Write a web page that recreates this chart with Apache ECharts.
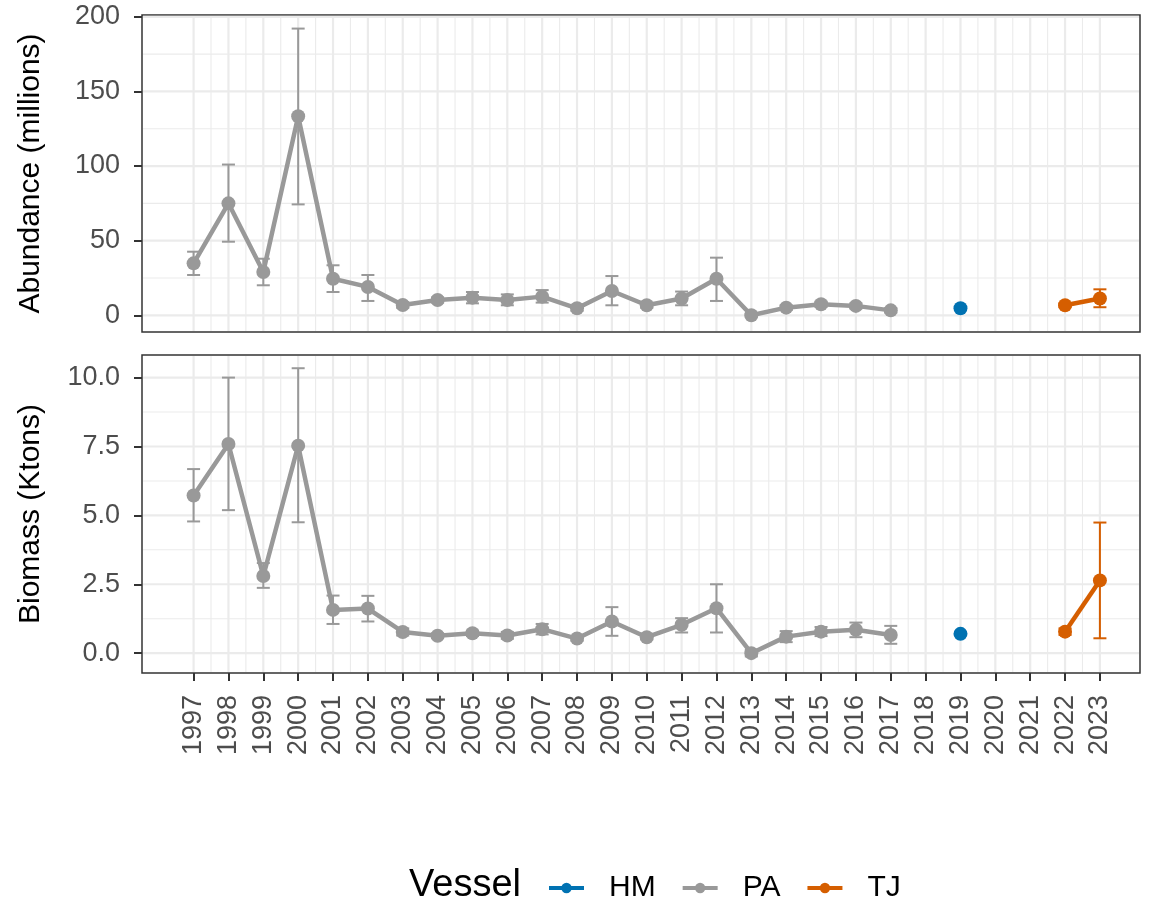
<!DOCTYPE html>
<html><head><meta charset="utf-8">
<script src="https://cdn.jsdelivr.net/npm/echarts@6/dist/echarts.min.js"></script>
<style>html,body{margin:0;padding:0;background:#fff}#c{width:1152px;height:907px}</style>
</head><body><div id="c"></div>
<script>
// ---------- data ----------
const years_PA = [1997,1998,1999,2000,2001,2002,2003,2004,2005,2006,2007,2008,2009,2010,2011,2012,2013,2014,2015,2016,2017];
const years_HM = [2019];
const years_TJ = [2022,2023];

const abund_PA    = [34.8,75.0,29.0,133.4,24.5,19.0,6.9,10.2,11.8,10.2,12.5,4.7,16.3,6.7,11.2,24.5,0.0,5.1,7.4,6.3,3.3];
const abund_PA_lo = [27.0,49.3,20.1,74.3,15.6,9.6,5.0,8.5,8.0,6.7,8.5,3.0,6.7,5.0,6.7,9.6,-0.8,3.5,5.6,4.6,1.8];
const abund_PA_hi = [42.6,101.0,37.9,192.1,33.5,27.0,8.8,12.0,15.6,14.0,16.9,6.4,26.3,8.5,15.9,38.6,0.8,6.7,9.2,8.0,4.8];
const abund_HM    = [4.7];
const abund_HM_lo = [4.0];
const abund_HM_hi = [5.4];
const abund_TJ    = [6.7,11.2];
const abund_TJ_lo = [5.5,5.4];
const abund_TJ_hi = [7.9,17.4];

const bio_PA    = [5.72,7.59,2.80,7.53,1.57,1.62,0.77,0.63,0.72,0.64,0.87,0.53,1.15,0.58,1.03,1.63,0.00,0.60,0.78,0.85,0.66];
const bio_PA_lo = [4.78,5.19,2.37,4.75,1.06,1.15,0.64,0.54,0.62,0.52,0.68,0.45,0.63,0.50,0.75,0.75,-0.12,0.40,0.62,0.58,0.34];
const bio_PA_hi = [6.68,10.0,3.27,10.34,2.09,2.08,0.90,0.72,0.82,0.77,1.06,0.61,1.67,0.66,1.27,2.50,0.12,0.80,0.95,1.11,0.99];
const bio_HM    = [0.70];
const bio_HM_lo = [0.65];
const bio_HM_hi = [0.75];
const bio_TJ    = [0.78,2.64];
const bio_TJ_lo = [0.66,0.54];
const bio_TJ_hi = [0.90,4.74];

const xTicks = [1997,1998,1999,2000,2001,2002,2003,2004,2005,2006,2007,2008,2009,2010,2011,2012,2013,2014,2015,2016,2017,2018,2019,2020,2021,2022,2023];
const xMinor = [1997.5,1998.5,1999.5,2000.5,2001.5,2002.5,2003.5,2004.5,2005.5,2006.5,2007.5,2008.5,2009.5,2010.5,2011.5,2012.5,2013.5,2014.5,2015.5,2016.5,2017.5,2018.5,2019.5,2020.5,2021.5,2022.5];
const abundTicks = [0,50,100,150,200];
const abundMinor = [25,75,125,175];
const bioTicks = [0,2.5,5,7.5,10];
const bioMinor = [1.25,3.75,6.25,8.75];

const vessels = ['HM','PA','TJ'];
const colors = {HM:'#0072B2', PA:'#999999', TJ:'#D55E00'};

// ---------- layout ----------
const FONT = '"Liberation Sans", Arial, Helvetica, sans-serif';
const X_MIN = 1995.52, X_MAX = 2024.15;
const Y0 = [-11.2, 201.2];
const Y1 = [-0.72, 10.82];

const chart = echarts.init(document.getElementById('c'), null, {renderer:'canvas'});

function zip(xs, ys){ return xs.map((x,i)=>[x, ys[i]]); }
function zip3(xs, lo, hi){ return xs.map((x,i)=>[x, lo[i], hi[i]]); }

function vGridSeries(gi, vals, w, yMid){
  return {type:'custom', xAxisIndex:gi, yAxisIndex:gi, silent:true, z:1, clip:false,
    data: vals.map(v=>[v, yMid]),
    encode:{x:0, y:1},
    renderItem:function(params, api){
      const cs = params.coordSys;
      const p = api.coord([api.value(0), api.value(1)]);
      return {type:'line', shape:{x1:p[0], y1:cs.y+1, x2:p[0], y2:cs.y+cs.height-1},
        style:{stroke:'#EBEBEB', lineWidth:w}};
    }};
}
function hGridSeries(gi, vals, w, xMid){
  return {type:'custom', xAxisIndex:gi, yAxisIndex:gi, silent:true, z:1, clip:false,
    data: vals.map(v=>[xMid, v]),
    encode:{x:0, y:1},
    renderItem:function(params, api){
      const cs = params.coordSys;
      const p = api.coord([api.value(0), api.value(1)]);
      return {type:'line', shape:{x1:cs.x+1, y1:p[1], x2:cs.x+cs.width-1, y2:p[1]},
        style:{stroke:'#EBEBEB', lineWidth:w}};
    }};
}
function errSeries(gi, name, data){
  const col = colors[name];
  return {type:'custom', name: name+' err', xAxisIndex:gi, yAxisIndex:gi, silent:true, z:2,
    data: data, encode:{x:0, y:[1,2]},
    renderItem:function(params, api){
      const x = api.value(0);
      const a = api.coord([x, api.value(1)]);
      const b = api.coord([x, api.value(2)]);
      const hw = 6.5;
      const st = {stroke:col, lineWidth:2};
      return {type:'group', children:[
        {type:'line', shape:{x1:a[0], y1:a[1], x2:b[0], y2:b[1]}, style:st},
        {type:'line', shape:{x1:a[0]-hw, y1:a[1], x2:a[0]+hw, y2:a[1]}, style:st},
        {type:'line', shape:{x1:b[0]-hw, y1:b[1], x2:b[0]+hw, y2:b[1]}, style:st}
      ]};
    }};
}
function lineSeries(gi, name, data){
  return {type:'line', name:name, xAxisIndex:gi, yAxisIndex:gi, z:3,
    data:data, symbol:'circle', symbolSize:14, showSymbol:true,
    itemStyle:{color:colors[name]}, lineStyle:{color:colors[name], width:4.5},
    emphasis:{disabled:true}};
}

function xAxisDef(gi, show){
  return {type:'value', gridIndex:gi, min:X_MIN, max:X_MAX,
    axisLine:{show:false, onZero:false}, splitLine:{show:false}, minorSplitLine:{show:false},
    axisTick:{show:show, customValues:xTicks, length:8, lineStyle:{color:'#333333', width:2}},
    axisLabel:{show:show, customValues:xTicks, rotate:90, margin:22, fontSize:27,
      color:'#4D4D4D', fontFamily:FONT, formatter:v=>String(v)}};
}
function yAxisDef(gi, ext, ticks, name, fmt){
  return {type:'value', gridIndex:gi, min:ext[0], max:ext[1],
    name:name, nameLocation:'middle', nameGap:96, nameRotate:90,
    nameTextStyle:{fontSize:30, color:'#000', fontFamily:FONT},
    axisLine:{show:false, onZero:false}, splitLine:{show:false},
    axisTick:{show:true, customValues:ticks, length:8, lineStyle:{color:'#333333', width:2}},
    axisLabel:{customValues:ticks, margin:22, fontSize:27, color:'#4D4D4D', fontFamily:FONT, formatter:fmt}};
}

const option = {
  animation:false,
  backgroundColor:'#fff',
  textStyle:{fontFamily:FONT},
  grid:[
    {left:142, top:15, width:998, height:317, show:true, borderColor:'#333333', borderWidth:1.5, backgroundColor:'#fff', containLabel:false},
    {left:142, top:355, width:998, height:318, show:true, borderColor:'#333333', borderWidth:1.5, backgroundColor:'#fff', containLabel:false}
  ],
  xAxis:[ xAxisDef(0,false), xAxisDef(1,true) ],
  yAxis:[
    yAxisDef(0, Y0, abundTicks, 'Abundance (millions)', v=>String(v)),
    yAxisDef(1, Y1, bioTicks, 'Biomass (Ktons)', v=>v.toFixed(1))
  ],
  legend:{
    data:vessels, left:547, top:873, orient:'horizontal', padding:0,
    itemWidth:35, itemHeight:13, itemGap:25, selectedMode:false,
    lineStyle:{width:4},
    textStyle:{fontSize:30, color:'#000', fontFamily:FONT, padding:[0,0,0,20]}
  },
  graphic:[
    {type:'text', left:409, top:867, style:{text:'Vessel', font:'38px '+FONT, fill:'#000'}}
  ],
  series:[
    vGridSeries(0, xMinor, 1.1, 100), vGridSeries(0, xTicks, 2.2, 100),
    hGridSeries(0, abundMinor, 1.1, 2010), hGridSeries(0, abundTicks, 2.2, 2010),
    vGridSeries(1, xMinor, 1.1, 5), vGridSeries(1, xTicks, 2.2, 5),
    hGridSeries(1, bioMinor, 1.1, 2010), hGridSeries(1, bioTicks, 2.2, 2010),
    errSeries(0,'PA', zip3(years_PA, abund_PA_lo, abund_PA_hi)),
    errSeries(0,'HM', zip3(years_HM, abund_HM_lo, abund_HM_hi)),
    errSeries(0,'TJ', zip3(years_TJ, abund_TJ_lo, abund_TJ_hi)),
    errSeries(1,'PA', zip3(years_PA, bio_PA_lo, bio_PA_hi)),
    errSeries(1,'HM', zip3(years_HM, bio_HM_lo, bio_HM_hi)),
    errSeries(1,'TJ', zip3(years_TJ, bio_TJ_lo, bio_TJ_hi)),
    lineSeries(0,'HM', zip(years_HM, abund_HM)),
    lineSeries(0,'PA', zip(years_PA, abund_PA)),
    lineSeries(0,'TJ', zip(years_TJ, abund_TJ)),
    lineSeries(1,'HM', zip(years_HM, bio_HM)),
    lineSeries(1,'PA', zip(years_PA, bio_PA)),
    lineSeries(1,'TJ', zip(years_TJ, bio_TJ))
  ]
};
chart.setOption(option);
</script>
</body></html>
